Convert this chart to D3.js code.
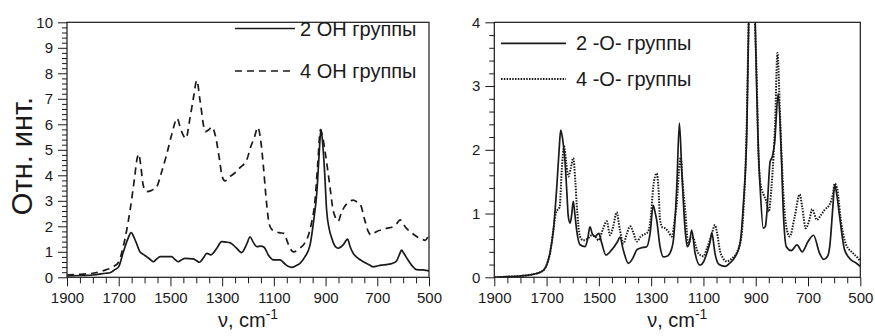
<!DOCTYPE html>
<html>
<head>
<meta charset="utf-8">
<script src="https://cdn.jsdelivr.net/npm/d3@7"></script>
<style>
  body { margin: 0; background: #fff; }
  svg { display: block; font-family: "Liberation Sans", Arial, sans-serif; }
</style>
</head>
<body>
<div id="chart"></div>
<script>
// Spectra: [wavenumber cm-1, relative intensity]
const oh2 = [
  [1900,0.05],[1850,0.07],[1800,0.09],[1750,0.16],[1734,0.18],[1715,0.3],[1700,0.42],[1682,1.0],
  [1665,1.5],[1652,1.75],[1640,1.55],[1630,1.3],[1618,1.0],[1605,0.9],[1592,0.81],[1578,0.7],
  [1566,0.61],[1553,0.72],[1540,0.81],[1514,0.81],[1495,0.81],[1483,0.7],[1470,0.61],[1455,0.7],
  [1444,0.74],[1412,0.72],[1400,0.66],[1388,0.59],[1370,0.8],[1360,0.94],[1344,0.88],[1320,1.15],
  [1302,1.4],[1285,1.38],[1270,1.36],[1245,1.15],[1225,0.97],[1205,1.3],[1192,1.59],[1180,1.38],
  [1166,1.2],[1150,1.22],[1138,1.18],[1120,0.85],[1102,0.68],[1076,0.68],[1060,0.55],[1045,0.43],
  [1031,0.39],[1015,0.45],[999,0.55],[980,0.8],[960,1.27],[945,2.3],[934,3.3],[925,4.8],
  [918,5.8],[910,5.1],[903,4.0],[896,2.64],[886,1.9],[876,1.53],[862,1.2],[851,1.14],
  [840,1.2],[832,1.27],[815,1.5],[805,1.2],[793,0.94],[775,0.75],[754,0.61],[730,0.48],
  [715,0.41],[702,0.44],[685,0.48],[664,0.5],[640,0.55],[625,0.65],[612,0.95],[606,1.07],
  [598,0.95],[581,0.68],[565,0.45],[549,0.3],[523,0.29],[510,0.27],[500,0.25]
];
const oh4 = [
  [1900,0.09],[1850,0.12],[1800,0.16],[1750,0.29],[1720,0.42],[1700,0.6],[1685,1.1],[1670,1.8],
  [1655,2.7],[1640,3.8],[1628,4.7],[1622,4.83],[1615,4.4],[1605,3.6],[1592,3.36],[1575,3.4],
  [1553,3.55],[1535,4.1],[1515,4.8],[1495,5.6],[1474,6.23],[1460,5.8],[1440,5.45],[1425,6.2],
  [1410,7.1],[1398,7.72],[1385,6.9],[1365,5.71],[1350,5.8],[1340,5.9],[1325,5.5],[1310,4.6],
  [1300,3.95],[1289,3.78],[1270,3.95],[1250,4.1],[1231,4.3],[1205,4.6],[1190,5.1],[1175,5.5],
  [1162,5.88],[1150,5.3],[1140,4.3],[1130,3.1],[1120,2.2],[1110,1.9],[1095,1.8],[1080,1.75],
  [1060,1.72],[1048,1.4],[1035,1.1],[1025,1.0],[1010,1.05],[999,1.14],[980,1.35],[968,1.6],
  [955,2.1],[941,3.0],[930,4.5],[920,5.78],[912,5.55],[903,5.0],[893,4.3],[883,3.55],
  [872,2.7],[862,2.35],[851,2.2],[840,2.5],[825,2.8],[810,2.95],[793,3.03],[778,2.95],
  [765,2.85],[750,2.3],[735,1.8],[725,1.66],[715,1.72],[702,1.8],[685,1.86],[664,1.92],
  [640,1.98],[625,2.1],[612,2.25],[600,2.1],[590,1.95],[574,1.8],[555,1.65],[540,1.55],
  [528,1.5],[515,1.45],[500,1.7]
];
const o2 = [
  [1900,0.0],[1850,0.01],[1802,0.02],[1760,0.04],[1738,0.06],[1715,0.1],[1706,0.14],[1695,0.25],
  [1687,0.38],[1674,0.74],[1661,1.42],[1652,2.0],[1646,2.31],[1638,2.15],[1630,1.84],[1622,1.3],
  [1617,0.95],[1610,0.85],[1604,0.98],[1598,1.19],[1592,1.0],[1585,0.74],[1572,0.51],[1553,0.48],
  [1543,0.6],[1534,0.79],[1525,0.68],[1515,0.64],[1500,0.69],[1490,0.55],[1473,0.35],[1451,0.43],
  [1430,0.55],[1419,0.63],[1408,0.45],[1387,0.22],[1370,0.3],[1355,0.43],[1340,0.46],[1317,0.48],
  [1304,0.69],[1292,1.13],[1284,1.0],[1279,0.9],[1266,0.48],[1253,0.32],[1240,0.33],[1228,0.38],
  [1215,0.58],[1202,1.42],[1192,2.42],[1183,1.68],[1170,0.74],[1162,0.48],[1153,0.55],[1145,0.74],
  [1132,0.38],[1113,0.19],[1100,0.24],[1087,0.38],[1075,0.55],[1068,0.7],[1060,0.5],[1056,0.38],
  [1040,0.2],[1017,0.17],[1000,0.22],[979,0.32],[960,0.53],[947,1.16],[934,2.31],[927,4.0],
  [914,6.0],[902,4.0],[896,2.9],[890,2.02],[883,1.4],[871,0.77],[863,0.8],[858,0.98],
  [845,1.81],[836,1.9],[828,2.1],[814,2.88],[803,2.02],[794,0.98],[783,0.48],[764,0.42],
  [742,0.51],[722,0.4],[700,0.56],[679,0.66],[656,0.38],[640,0.28],[625,0.33],[617,0.48],
  [605,1.1],[598,1.45],[590,1.3],[579,0.95],[560,0.43],[534,0.27],[515,0.22],[500,0.17]
];
const o4 = [
  [1900,0.0],[1850,0.01],[1802,0.02],[1760,0.04],[1738,0.06],[1715,0.1],[1706,0.14],[1695,0.25],
  [1687,0.38],[1674,0.74],[1665,1.0],[1658,1.06],[1650,1.1],[1642,1.68],[1633,2.05],[1625,1.8],
  [1617,1.58],[1608,1.7],[1598,1.87],[1590,1.5],[1585,1.16],[1572,0.64],[1560,0.58],[1545,0.6],
  [1527,0.66],[1510,0.62],[1502,0.58],[1485,0.75],[1470,0.88],[1457,0.66],[1445,0.8],[1432,1.02],
  [1420,0.75],[1406,0.53],[1392,0.7],[1380,0.8],[1368,0.7],[1355,0.56],[1340,0.64],[1323,0.68],
  [1311,0.72],[1300,1.0],[1292,1.42],[1279,1.63],[1272,1.4],[1266,0.9],[1256,0.78],[1247,0.77],
  [1235,0.72],[1221,0.64],[1210,0.9],[1202,1.16],[1192,1.75],[1187,1.88],[1180,1.5],[1170,1.06],
  [1158,0.53],[1150,0.6],[1139,0.62],[1130,0.5],[1120,0.38],[1100,0.33],[1087,0.45],[1070,0.65],
  [1056,0.82],[1048,0.7],[1037,0.42],[1025,0.3],[1011,0.25],[990,0.3],[973,0.38],[955,0.64],
  [945,1.2],[935,2.3],[927,4.0],[915,5.5],[903,4.0],[896,3.07],[890,2.0],[883,1.5],
  [870,1.3],[860,1.2],[850,1.03],[840,1.4],[832,1.9],[826,2.39],[817,3.52],[807,2.55],
  [800,1.8],[794,1.29],[783,0.79],[770,0.64],[751,0.95],[732,1.3],[722,1.1],[709,0.77],
  [695,0.9],[684,1.07],[666,0.9],[650,0.98],[636,1.06],[615,1.16],[605,1.3],[598,1.47],
  [589,1.4],[573,0.85],[554,0.51],[528,0.38],[509,0.3],[500,0.25]
];

const xLabelTicks = [1900, 1700, 1500, 1300, 1100, 900, 700, 500];
const leftYTicks = [0, 1, 2, 3, 4, 5, 6, 7, 8, 9, 10];
const rightYTicks = [0, 1, 2, 3, 4];
const leftLegend = ["2 OH группы", "4 OH группы"];
const rightLegend = ["2 -O- группы", "4 -O- группы"];
const yTitle = "Отн. инт.";

const width = 875, height = 336;
const ink = "#1a1a1a";

const svg = d3.select("#chart").append("svg")
    .attr("width", width)
    .attr("height", height);

// one panel = frame + axes + two curves + legend
function drawPanel(opt) {
    const x = d3.scaleLinear().domain([1900, 500]).range([opt.left, opt.right]);
    const y = d3.scaleLinear().domain([0, opt.yMax]).range([277.3, 22.3]);
    const g = svg.append("g");

    // minor ticks every 50 cm-1
    const minorX = d3.range(1900, 499, -50).filter(v => !xLabelTicks.includes(v));
    g.append("g")
        .attr("transform", `translate(0,${y(0)})`)
        .call(d3.axisBottom(x).tickValues(minorX).tickSize(6).tickFormat(""))
        .call(a => a.select(".domain").remove());
    g.append("g")
        .attr("transform", `translate(0,${y(0)})`)
        .call(d3.axisBottom(x).tickValues(xLabelTicks).tickSize(9).tickPadding(6).tickFormat(d3.format("d")))
        .call(a => a.select(".domain").remove())
        .call(a => a.selectAll("text").attr("font-size", 15));

    const minorY = d3.range(0, opt.yMax + 0.001, 0.2).filter(v => Math.abs(v - Math.round(v)) > 0.01);
    g.append("g")
        .attr("transform", `translate(${x(1900)},0)`)
        .call(d3.axisLeft(y).tickValues(minorY).tickSize(5).tickFormat(""))
        .call(a => a.select(".domain").remove());
    g.append("g")
        .attr("transform", `translate(${x(1900)},0)`)
        .call(d3.axisLeft(y).tickValues(opt.yTicks).tickSize(9).tickPadding(5).tickFormat(d3.format("d")))
        .call(a => a.select(".domain").remove())
        .call(a => a.selectAll("text").attr("font-size", 15));

    g.selectAll(".tick line").attr("stroke", ink);
    g.selectAll(".tick text").attr("fill", ink).attr("font-family", "Liberation Sans, Arial, sans-serif");

    // clip so the tall peak is cut at the frame top
    g.append("clipPath").attr("id", opt.id)
        .append("rect")
        .attr("x", x(1900)).attr("y", y(opt.yMax))
        .attr("width", x(500) - x(1900)).attr("height", y(0) - y(opt.yMax));

    const line = d3.line()
        .x(d => x(d[0]))
        .y(d => y(d[1]))
        .curve(d3.curveMonotoneX);

    opt.series.forEach(s => {
        g.append("path")
            .datum(s.data)
            .attr("clip-path", `url(#${opt.id})`)
            .attr("fill", "none")
            .attr("stroke", ink)
            .attr("stroke-width", s.width)
            .attr("stroke-dasharray", s.dash)
            .attr("d", line);
    });

    g.append("rect")
        .attr("x", x(1900)).attr("y", y(opt.yMax))
        .attr("width", x(500) - x(1900)).attr("height", y(0) - y(opt.yMax))
        .attr("fill", "none")
        .attr("stroke", ink)
        .attr("stroke-width", 1.2);

    // legend
    opt.series.forEach((s, i) => {
        const ly = opt.legend.y[i];
        g.append("line")
            .attr("x1", opt.legend.x1).attr("x2", opt.legend.x2)
            .attr("y1", ly).attr("y2", ly)
            .attr("stroke", ink)
            .attr("stroke-width", s.width)
            .attr("stroke-dasharray", s.dash);
        g.append("text")
            .attr("x", opt.legend.x2 + opt.legend.gap)
            .attr("y", ly + 7)
            .attr("font-size", 20)
            .attr("fill", ink)
            .text(s.label);
    });

    // x title with superscript
    const t = g.append("text")
        .attr("x", (opt.left + opt.right) / 2)
        .attr("y", 327)
        .attr("text-anchor", "middle")
        .attr("font-size", 20)
        .attr("fill", ink);
    t.append("tspan").text("ν, cm");
    t.append("tspan").attr("font-size", 14).attr("dy", -8).text("-1");
}

drawPanel({
    id: "clipLeft", left: 67, right: 429, yMax: 10, yTicks: leftYTicks,
    series: [
        { data: oh2, label: leftLegend[0], width: 1.7, dash: null },
        { data: oh4, label: leftLegend[1], width: 1.7, dash: "7,5" }
    ],
    legend: { x1: 235, x2: 295, gap: 5, y: [28.5, 71] }
});

drawPanel({
    id: "clipRight", left: 494.3, right: 860.3, yMax: 4, yTicks: rightYTicks,
    series: [
        { data: o2, label: rightLegend[0], width: 1.7, dash: null },
        { data: o4, label: rightLegend[1], width: 2, dash: "1.5,1.3" }
    ],
    legend: { x1: 501, x2: 566, gap: 10, y: [43.3, 79] }
});

// y title, left side only
svg.append("text")
    .attr("transform", "translate(32,156) rotate(-90)")
    .attr("text-anchor", "middle")
    .attr("font-size", 29)
    .attr("fill", ink)
    .text(yTitle);
</script>
</body>
</html>
